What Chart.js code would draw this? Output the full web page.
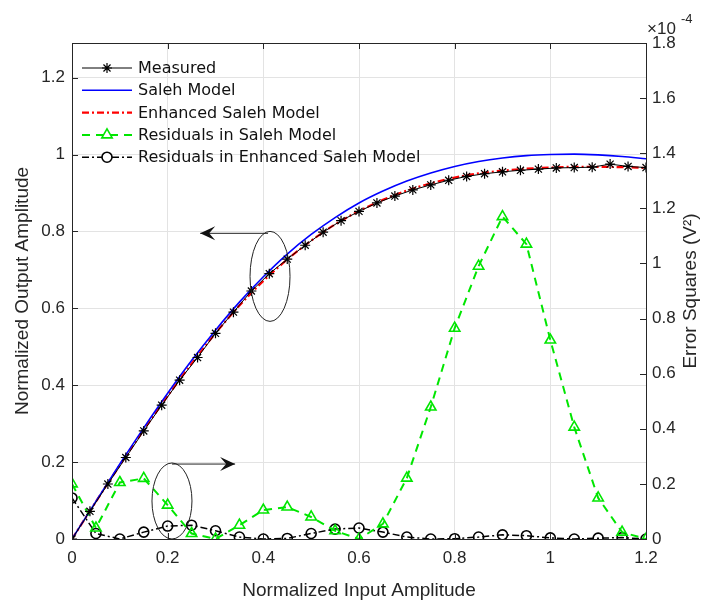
<!DOCTYPE html>
<html>
<head>
<meta charset="utf-8">
<script src="https://cdn.jsdelivr.net/npm/chart.js@4.4.1/dist/chart.umd.min.js"></script>
<style>
  body { margin: 0; background: #fff; }
</style>
</head>
<body>
<canvas id="chart" width="713" height="606"></canvas>
<script>
// measured samples (input amplitude / output amplitude)
const measuredX = [0, 0.0375, 0.075, 0.1125, 0.15, 0.1875, 0.225, 0.2625, 0.3, 0.3375, 0.375, 0.4125, 0.45, 0.4875, 0.525, 0.5625, 0.6, 0.6375, 0.675, 0.7125, 0.75, 0.7875, 0.825, 0.8625, 0.9, 0.9375, 0.975, 1.0125, 1.05, 1.0875, 1.125, 1.1625, 1.2];
const measuredY = [0, 0.072, 0.143, 0.212, 0.281, 0.348, 0.413, 0.472, 0.535, 0.59, 0.645, 0.69, 0.728, 0.764, 0.798, 0.828, 0.852, 0.874, 0.892, 0.908, 0.921, 0.933, 0.943, 0.95, 0.955, 0.959, 0.962, 0.965, 0.966, 0.967, 0.975, 0.969, 0.966];

// model curves and residuals share this grid
const gridX = [0, 0.05, 0.1, 0.15, 0.2, 0.25, 0.3, 0.35, 0.4, 0.45, 0.5, 0.55, 0.6, 0.65, 0.7, 0.75, 0.8, 0.85, 0.9, 0.95, 1, 1.05, 1.1, 1.15, 1.2];
const salehModel = [0, 0.098, 0.195, 0.289, 0.379, 0.464, 0.543, 0.616, 0.682, 0.741, 0.792, 0.836, 0.874, 0.905, 0.931, 0.952, 0.969, 0.982, 0.991, 0.997, 1.0, 1.001, 0.999, 0.995, 0.989];
const enhancedModel = [0, 0.097, 0.192, 0.284, 0.372, 0.456, 0.535, 0.607, 0.671, 0.727, 0.776, 0.818, 0.853, 0.882, 0.906, 0.925, 0.94, 0.951, 0.958, 0.963, 0.966, 0.968, 0.968, 0.967, 0.965];

// error squares, in units of 1e-4 V^2
const residualSaleh = [0.2, 0.04, 0.205, 0.22, 0.123, 0.02, 0.0, 0.05, 0.105, 0.116, 0.08, 0.03, 0.0, 0.055, 0.221, 0.479, 0.765, 0.99, 1.17, 1.07, 0.722, 0.406, 0.149, 0.025, 0.0];
const residualEnhanced = [0.149, 0.02, 0.0, 0.025, 0.047, 0.05, 0.03, 0.007, 0.0, 0.002, 0.02, 0.036, 0.04, 0.025, 0.007, 0.0, 0.001, 0.007, 0.015, 0.012, 0.004, 0.0, 0.003, 0.005, 0.0];

const xTicks = [0, 0.2, 0.4, 0.6, 0.8, 1, 1.2];
const leftTicks = [0, 0.2, 0.4, 0.6, 0.8, 1, 1.2];
const rightTicks = [0, 0.2, 0.4, 0.6, 0.8, 1, 1.2, 1.4, 1.6, 1.8];

const pts = (xs, ys) => xs.map((x, i) => ({ x: x, y: ys[i] }));

const FONT = "'Liberation Sans', Arial, sans-serif";
const GRID = "#e3e3e3";

const datasets = [
  {
    label: "Measured",
    data: pts(measuredX, measuredY),
    borderColor: "#000",
    borderWidth: 1,
    pointStyle: "star",
    pointRadius: 5,
    pointBorderWidth: 1.2,
    pointBorderColor: "#000",
    yAxisID: "y",
  },
  {
    label: "Saleh Model",
    data: pts(gridX, salehModel),
    borderColor: "#0000ff",
    borderWidth: 1.6,
    pointRadius: 0,
    cubicInterpolationMode: "monotone",
    yAxisID: "y",
  },
  {
    label: "Enhanced Saleh Model",
    data: pts(gridX, enhancedModel),
    borderColor: "#ff0000",
    borderWidth: 2.2,
    borderDash: [7, 3, 2, 3],
    pointRadius: 0,
    cubicInterpolationMode: "monotone",
    yAxisID: "y",
  },
  {
    label: "Residuals in Saleh Model",
    data: pts(gridX, residualSaleh),
    borderColor: "#00e600",
    borderWidth: 2,
    borderDash: [8, 6],
    pointStyle: "triangle",
    pointRadius: 6,
    pointBorderWidth: 1.6,
    pointBorderColor: "#00e600",
    pointBackgroundColor: "rgba(0,0,0,0)",
    yAxisID: "y2",
  },
  {
    label: "Residuals in Enhanced Saleh Model",
    data: pts(gridX, residualEnhanced),
    borderColor: "#000",
    borderWidth: 1.5,
    borderDash: [7, 3, 2, 3],
    pointStyle: "circle",
    pointRadius: 5,
    pointBorderWidth: 1.6,
    pointBorderColor: "#000",
    pointBackgroundColor: "rgba(0,0,0,0)",
    yAxisID: "y2",
  },
];

// legend, box, inward ticks, exponent label, right title, ellipses and arrows
const decorations = {
  id: "decorations",
  afterDatasetsDraw(chart) {
    const ctx = chart.ctx;
    const a = chart.chartArea;
    const sx = chart.scales.x, sy = chart.scales.y, sy2 = chart.scales.y2;
    ctx.save();

    // axes box
    ctx.setLineDash([]);
    ctx.lineWidth = 1;
    ctx.strokeStyle = "#262626";
    ctx.strokeRect(a.left + 0.5, a.top + 0.5, a.right - a.left, a.bottom - a.top);

    // inward ticks
    ctx.beginPath();
    xTicks.forEach(v => {
      const p = Math.round(sx.getPixelForValue(v)) + 0.5;
      ctx.moveTo(p, a.bottom); ctx.lineTo(p, a.bottom - 6);
      ctx.moveTo(p, a.top); ctx.lineTo(p, a.top + 6);
    });
    leftTicks.forEach(v => {
      const p = Math.round(sy.getPixelForValue(v)) + 0.5;
      ctx.moveTo(a.left, p); ctx.lineTo(a.left + 6, p);
    });
    rightTicks.forEach(v => {
      const p = Math.round(sy2.getPixelForValue(v)) + 0.5;
      ctx.moveTo(a.right, p); ctx.lineTo(a.right - 6, p);
    });
    ctx.stroke();

    // x10^-4 exponent
    ctx.fillStyle = "#262626";
    ctx.font = "17px " + FONT;
    ctx.textBaseline = "alphabetic";
    ctx.textAlign = "left";
    ctx.fillText("\u00d710", a.right + 1, 34);
    ctx.font = "13px " + FONT;
    ctx.fillText("-4", a.right + 35, 23);

    // right axis title, reading bottom to top
    ctx.save();
    ctx.translate(691, (a.top + a.bottom) / 2);
    ctx.rotate(-Math.PI / 2);
    ctx.textAlign = "center";
    ctx.textBaseline = "middle";
    ctx.font = "19px " + FONT;
    ctx.fillText("Error Squares (V\u00b2)", 0, 0);
    ctx.restore();

    // ellipses and arrows
    ctx.strokeStyle = "#222";
    ctx.lineWidth = 1;
    const ellipse = (cx, cy, rx, ry) => {
      ctx.beginPath();
      ctx.ellipse(cx, cy, rx, ry, 0, 0, Math.PI * 2);
      ctx.stroke();
    };
    const arrow = (x1, y1, x2, y2) => {
      ctx.beginPath();
      ctx.moveTo(x1, y1); ctx.lineTo(x2, y2);
      ctx.stroke();
      const dir = Math.sign(x2 - x1);
      ctx.beginPath();
      ctx.moveTo(x2, y2);
      ctx.lineTo(x2 - dir * 15, y2 - 7);
      ctx.lineTo(x2 - dir * 9, y2);
      ctx.lineTo(x2 - dir * 15, y2 + 7);
      ctx.closePath();
      ctx.fillStyle = "#111";
      ctx.fill();
    };
    const e1x = sx.getPixelForValue(0.414), e1y = sy.getPixelForValue(0.683);
    ellipse(e1x, e1y, 20, 45);
    arrow(e1x - 2, sy.getPixelForValue(0.795), sx.getPixelForValue(0.268), sy.getPixelForValue(0.795));
    const e2x = sx.getPixelForValue(0.209), e2y = sy2.getPixelForValue(0.138);
    ellipse(e2x, e2y, 20, 38);
    arrow(e2x, sy2.getPixelForValue(0.272), sx.getPixelForValue(0.341), sy2.getPixelForValue(0.272));

    // legend
    ctx.font = "16px 'DejaVu Sans', Verdana, sans-serif";
    ctx.textBaseline = "middle";
    ctx.textAlign = "left";
    chart.data.datasets.forEach((ds, i) => {
      const y = 68 + i * 22.3;
      ctx.strokeStyle = ds.borderColor;
      ctx.lineWidth = ds.borderWidth;
      ctx.setLineDash(ds.borderDash || []);
      ctx.beginPath();
      ctx.moveTo(82, y); ctx.lineTo(132, y);
      ctx.stroke();
      ctx.setLineDash([]);
      if (ds.pointRadius > 0) {
        ctx.fillStyle = "#fff";
        ctx.strokeStyle = ds.pointBorderColor;
        ctx.lineWidth = ds.pointBorderWidth;
        Chart.helpers.drawPoint(ctx, {
          pointStyle: ds.pointStyle,
          radius: ds.pointRadius,
          borderWidth: ds.pointBorderWidth,
          rotation: 0,
        }, 107, y);
      }
      ctx.fillStyle = "#111";
      ctx.fillText(ds.label, 138, y + 1);
    });

    ctx.restore();
  },
};

new Chart(document.getElementById("chart"), {
  type: "line",
  data: { datasets: datasets },
  plugins: [decorations],
  options: {
    responsive: false,
    animation: false,
    layout: { padding: { top: 43, left: 0, right: 0, bottom: 0 } },
    plugins: { legend: { display: false }, tooltip: { enabled: false } },
    scales: {
      x: {
        type: "linear",
        min: 0,
        max: 1.2,
        afterBuildTicks: s => { s.ticks = xTicks.map(v => ({ value: v })); },
        afterFit: s => { s.height = 67; },
        grid: { color: GRID, drawTicks: false },
        border: { display: false },
        ticks: { padding: 9, color: "#262626", font: { family: FONT, size: 17 }, callback: v => String(v) },
        title: { display: true, text: "Normalized Input Amplitude", color: "#262626", font: { family: FONT, size: 19 }, padding: { top: 4 } },
      },
      y: {
        type: "linear",
        position: "left",
        min: 0,
        max: 1.29,
        afterBuildTicks: s => { s.ticks = leftTicks.map(v => ({ value: v })); },
        afterFit: s => { s.width = 72; },
        grid: { color: GRID, drawTicks: false },
        border: { display: false },
        ticks: { padding: 7, color: "#262626", font: { family: FONT, size: 17 }, callback: v => String(v) },
        title: { display: true, text: "Normalized Output Amplitude", color: "#262626", font: { family: FONT, size: 19 }, padding: { top: 11, bottom: 2 } },
      },
      y2: {
        type: "linear",
        position: "right",
        min: 0,
        max: 1.8,
        afterBuildTicks: s => { s.ticks = rightTicks.map(v => ({ value: v })); },
        afterFit: s => { s.width = 67; },
        grid: { display: false, drawTicks: false },
        border: { display: false },
        ticks: { padding: 6, color: "#262626", font: { family: FONT, size: 17 }, callback: v => String(v) },
      },
    },
  },
});
</script>
</body>
</html>
